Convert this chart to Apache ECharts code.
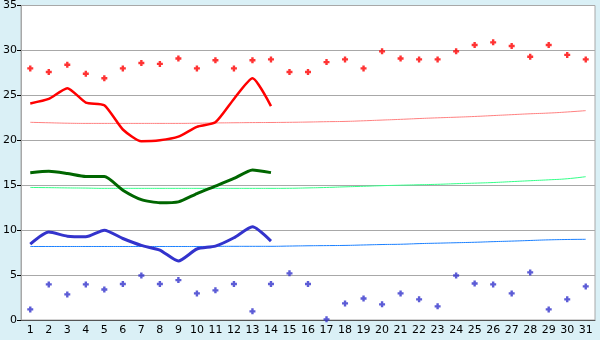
<!DOCTYPE html>
<html>
<head>
<meta charset="utf-8">
<script src="https://cdn.jsdelivr.net/npm/echarts@6/dist/echarts.min.js"></script>
<style>
  html, body { margin: 0; padding: 0; background: #daf0f6; }
  #chart { width: 600px; height: 340px; }
</style>
</head>
<body>
<div id="chart"></div>
<script>
// days of the month
const days = [];
for (let d = 1; d <= 31; d++) days.push(String(d));

// record highs (red points)
const recordHigh = [28.0, 27.6, 28.4, 27.4, 26.9, 28.0, 28.6, 28.5, 29.1, 28.0,
  28.9, 28.0, 28.9, 29.0, 27.6, 27.6, 28.7, 29.0, 28.0, 29.9,
  29.1, 29.0, 29.0, 29.9, 30.6, 30.9, 30.5, 29.3, 30.6, 29.5, 29.0];

// daily max this month (red line)
const dailyMax = [24.1, 24.6, 25.8, 24.2, 23.9, 21.2, 19.9, 20.0, 20.4, 21.5,
  22.0, 24.6, 26.9, 23.8];

// average max (pink line)
const avgMax = [22.0, 21.95, 21.9, 21.88, 21.88, 21.88, 21.88, 21.88, 21.88, 21.9,
  21.93, 21.95, 21.97, 21.98, 22.0, 22.03, 22.07, 22.1, 22.17, 22.25,
  22.33, 22.42, 22.5, 22.57, 22.65, 22.75, 22.85, 22.95, 23.03, 23.15, 23.3];

// daily mean this month (dark green line)
const dailyMean = [16.4, 16.55, 16.3, 15.96, 15.96, 14.45, 13.4, 13.05, 13.15, 14.07,
  14.9, 15.75, 16.7, 16.4];

// average mean (light green line)
const avgMean = [14.75, 14.73, 14.7, 14.68, 14.65, 14.65, 14.65, 14.65, 14.65, 14.65,
  14.65, 14.65, 14.65, 14.65, 14.66, 14.7, 14.75, 14.82, 14.88, 14.95,
  15.0, 15.05, 15.1, 15.17, 15.23, 15.3, 15.4, 15.5, 15.6, 15.72, 15.95];

// daily min this month (blue line)
const dailyMin = [8.44, 9.78, 9.33, 9.26, 10.0, 9.07, 8.3, 7.78, 6.56, 7.9,
  8.22, 9.15, 10.37, 8.78];

// average min (light blue line)
const avgMin = [8.18, 8.18, 8.18, 8.18, 8.18, 8.18, 8.18, 8.18, 8.18, 8.18,
  8.2, 8.2, 8.2, 8.2, 8.23, 8.26, 8.28, 8.3, 8.35, 8.4,
  8.43, 8.5, 8.55, 8.6, 8.65, 8.72, 8.78, 8.85, 8.92, 8.96, 8.98];

// record lows (blue points)
const recordLow = [1.18, 3.96, 2.85, 3.96, 3.4, 4.0, 4.96, 4.0, 4.44, 2.96,
  3.3, 4.0, 0.96, 4.0, 5.19, 4.0, 0.07, 1.85, 2.4, 1.74,
  2.96, 2.3, 1.52, 4.96, 4.07, 3.96, 2.96, 5.3, 1.18, 2.3, 3.74];

const yTicks = [0, 5, 10, 15, 20, 25, 30, 35];

// small fat plus, like the old excel-style marker
const marker = 'path://M1.5,0H3.5V1.5H5V3.5H3.5V5H1.5V3.5H0V1.5H1.5Z';

function lineSeries(name, data, color, width, smooth) {
  return {
    name: name,
    type: 'line',
    data: data,
    symbol: 'none',
    smooth: smooth,
    silent: true,
    lineStyle: { color: color, width: width },
    z: width > 1 ? 4 : 3
  };
}

function pointSeries(name, data, color) {
  return {
    name: name,
    type: 'scatter',
    data: data,
    symbol: marker,
    symbolSize: 6,
    itemStyle: { color: color },
    z: 5
  };
}

const chart = echarts.init(document.getElementById('chart'));
chart.setOption({
  backgroundColor: '#daf0f6',
  animation: false,
  textStyle: { fontFamily: 'DejaVu Sans' },
  grid: {
    left: 21, right: 5, top: 5, bottom: 20,
    show: true,
    backgroundColor: '#ffffff',
    borderColor: '#a8a8a8',
    borderWidth: 1
  },
  xAxis: {
    type: 'category',
    data: days,
    boundaryGap: true,
    axisLine: { lineStyle: { color: '#555', width: 1 } },
    axisTick: { alignWithLabel: true, length: 4, lineStyle: { color: '#000' } },
    axisLabel: { color: '#000', fontSize: 11, margin: 5, interval: 0 },
    splitLine: { show: false }
  },
  yAxis: {
    type: 'value',
    min: yTicks[0],
    max: yTicks[yTicks.length - 1],
    interval: 5,
    axisLine: { show: true, lineStyle: { color: '#a8a8a8', width: 1 } },
    axisTick: { show: true, length: 4, lineStyle: { color: '#000' } },
    axisLabel: { color: '#000', fontSize: 11, margin: 4 },
    splitLine: { lineStyle: { color: '#a8a8a8', width: 1 } }
  },
  series: [
    lineSeries('Avg max', avgMax, '#ff8080', 1, true),
    lineSeries('Avg mean', avgMean, '#33ff88', 1, true),
    lineSeries('Avg min', avgMin, '#1a80ff', 1, true),
    lineSeries('Max', dailyMax, '#ff0000', 2.5, 0.2),
    lineSeries('Mean', dailyMean, '#006600', 3, 0.2),
    lineSeries('Min', dailyMin, '#3333cc', 3, 0.2),
    pointSeries('Record high', recordHigh, '#ff0000'),
    pointSeries('Record low', recordLow, '#3333cc')
  ]
});
</script>
</body>
</html>
